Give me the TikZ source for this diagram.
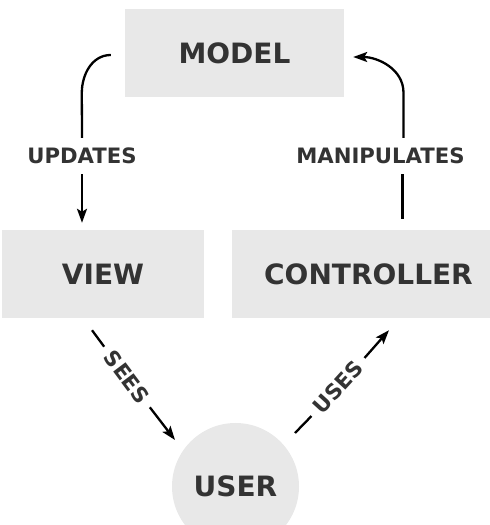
\documentclass[tikz,border=0pt]{standalone}
\usepackage{fontspec}
\setmainfont{DejaVu Sans}
\usetikzlibrary{arrows.meta}
\definecolor{boxgray}{HTML}{E8E8E8}
\definecolor{txtgray}{HTML}{333333}
\tikzset{
  part/.style={fill=boxgray, text=txtgray, font=\bfseries\fontsize{28}{28}\selectfont, minimum height=88pt},
  verb/.style={text=txtgray, font=\bfseries\fontsize{21.2}{21.2}\selectfont, inner sep=10pt},
  conn/.style={line width=2.3pt, -{Stealth[length=14pt,width=10pt,inset=3pt]}}
}
\begin{document}
\begin{tikzpicture}[x=1pt,y=1pt]
\useasboundingbox (0,0) rectangle (490,525);
\node[part, minimum width=219pt] (model) at (234.5,472){MODEL};
\node[part, minimum width=202pt] (view) at (103,251){VIEW};
\node[part, minimum width=273pt] (controller) at (368.5,251){CONTROLLER};
\node[part, circle, minimum size=127pt, inner sep=0pt] (user) at (235.5,38.5){USER};
\node[verb] (updates) at (82,369){UPDATES};
\node[verb] (manipulates) at (380.5,369){MANIPULATES};
\node[verb, rotate=-53, inner ysep=3pt, inner xsep=8pt] (sees) at (127,148){SEES};
\node[verb, rotate=47.6, inner ysep=3pt, inner xsep=8pt] (uses) at (338,138){USES};
% model -> view
\draw[conn,-] ([shift={(-14pt,-2pt)}]model.west) to[out=180,in=90] ++(-29pt,-38pt) -- (updates.north);
\draw[conn, shorten >=7pt] (updates.south) -- (updates.south |- view.north);
% controller -> model
\draw[conn,-] ([shift={(34pt,11pt)}]controller.north) -- ([xshift=22pt]manipulates.south);
\draw[conn] ([xshift=23pt]manipulates.north) -- ++(0,45pt) to[out=90,in=0] ([shift={(9pt,-4pt)}]model.east);
% view -> user
\draw[conn,-] ([shift={(-11pt,-12pt)}]view.south) -- (sees.west);
\draw[conn] (sees.east) -- ([shift={(-60.5pt,46.5pt)}]user.center);
% user -> controller
\draw[conn,-] ([shift={(59.5pt,53.5pt)}]user.center) -- (uses.west);
\draw[conn] (uses.east) -- ([shift={(20.5pt,-12pt)}]controller.south);
\end{tikzpicture}
\end{document}
